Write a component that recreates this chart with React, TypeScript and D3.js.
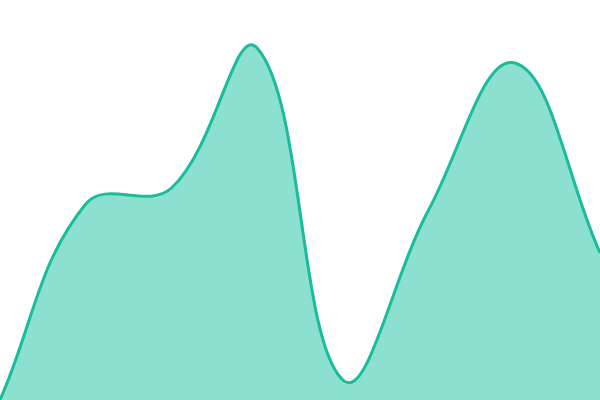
import React from "react";
import * as d3 from "d3";

const categories = [0, 1, 2, 3, 4, 5, 6, 7];
const values = [0, 49, 53, 88, 5, 47.5, 84.3, 36.8];

const W = 600;
const H = 400;
const TENSION = 0.4;

type P = [number, number];

function splinePath(pts: P[], t: number, closeToBottom: number | null): string {
  const n = pts.length;
  const cp: { a: P; b: P }[] = pts.map((p, i) => {
    const prev = pts[Math.max(i - 1, 0)];
    const next = pts[Math.min(i + 1, n - 1)];
    const d01 = Math.hypot(p[0] - prev[0], p[1] - prev[1]);
    const d12 = Math.hypot(next[0] - p[0], next[1] - p[1]);
    let s01 = d01 / (d01 + d12);
    let s12 = d12 / (d01 + d12);
    if (!isFinite(s01)) s01 = 0;
    if (!isFinite(s12)) s12 = 0;
    const fa = t * s01;
    const fb = t * s12;
    const a: P = [p[0] - fa * (next[0] - prev[0]), p[1] - fa * (next[1] - prev[1])];
    const b: P = [p[0] + fb * (next[0] - prev[0]), p[1] + fb * (next[1] - prev[1])];
    return { a, b };
  });
  const path = d3.path();
  if (closeToBottom !== null) {
    path.moveTo(pts[0][0], closeToBottom);
    path.lineTo(pts[0][0], pts[0][1]);
  } else {
    path.moveTo(pts[0][0], pts[0][1]);
  }
  for (let i = 1; i < n; i++) {
    const c1 = cp[i - 1].b;
    const c2 = cp[i].a;
    path.bezierCurveTo(c1[0], c1[1], c2[0], c2[1], pts[i][0], pts[i][1]);
  }
  if (closeToBottom !== null) {
    path.lineTo(pts[n - 1][0], closeToBottom);
    path.closePath();
  }
  return path.toString();
}

export default function App() {
  const x = d3.scaleLinear().domain([0, categories.length - 1]).range([0, W]);
  const y = d3.scaleLinear().domain([0, 100]).range([H, 0]);
  const pts: P[] = categories.map((c, i) => [x(c), y(values[i])]);
  return (
    <svg
      width={W}
      height={H}
      style={{ position: "fixed", left: 0, top: 0, display: "block" }}
    >
      <path d={splinePath(pts, TENSION, H)} fill="#8be0cf" />
      <path d={splinePath(pts, TENSION, null)} fill="none" stroke="#1abc9c" strokeWidth={3} />
    </svg>
  );
}
